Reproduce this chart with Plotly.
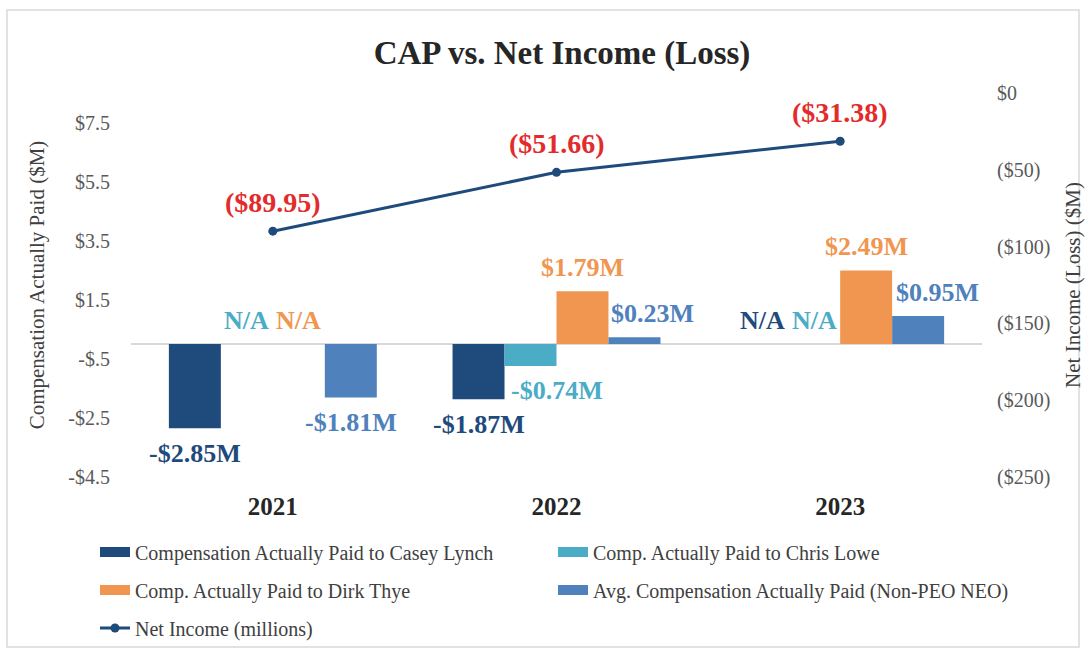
import plotly.graph_objects as go

# ---------------- data ----------------
years = ["2021", "2022", "2023"]
casey_lynch = [-2.85, -1.87, None]
chris_lowe = [None, -0.74, None]
dirk_thye = [None, 1.79, 2.49]
avg_non_peo = [-1.81, 0.23, 0.95]
net_income = [-89.95, -51.66, -31.38]

left_tick_vals = [-4.5, -2.5, -0.5, 1.5, 3.5, 5.5, 7.5]
left_tick_text = ["-$4.5", "-$2.5", "-$.5", "$1.5", "$3.5", "$5.5", "$7.5"]
right_tick_vals = [-250, -200, -150, -100, -50, 0]
right_tick_text = ["($250)", "($200)", "($150)", "($100)", "($50)", "$0"]

series_names = [
    "Compensation Actually Paid to Casey Lynch",
    "Comp. Actually Paid to Chris Lowe",
    "Comp. Actually Paid to Dirk Thye",
    "Avg. Compensation Actually Paid (Non-PEO NEO)",
]
series_values = [casey_lynch, chris_lowe, dirk_thye, avg_non_peo]
line_name = "Net Income (millions)"

# ---------------- style ----------------
FONT = "Liberation Serif"
colors = ["#1F4A7C", "#4BACC6", "#F09650", "#4F81BD"]
line_color = "#1F4A7C"
red = "#E32B2B"
BARGAP = 0.267
bw = (1 - BARGAP) / 4
# manual label nudges (pixels) for overlapping labels: (series, year index) -> xshift
label_xshift = {(1, 1): 26, (3, 1): 18, (3, 2): 19}

x_idx = list(range(len(years)))

fig = go.Figure()

for k, (name, vals) in enumerate(zip(series_names, series_values)):
    fig.add_trace(go.Bar(
        x=x_idx, y=vals, name=name, marker=dict(color=colors[k], line=dict(width=0)),
        showlegend=False, yaxis="y", hoverinfo="x+y",
    ))

fig.add_trace(go.Scatter(
    x=x_idx, y=net_income, name=line_name, yaxis="y2", mode="lines+markers",
    line=dict(color=line_color, width=3), marker=dict(color=line_color, size=9),
    legend="legend3",
))

# legend-only entries with rectangular swatches
legend_assign = ["legend", "legend", "legend2", "legend2"]
for k, name in enumerate(series_names):
    fig.add_trace(go.Scatter(
        x=[None], y=[None], mode="lines", name=name,
        line=dict(color=colors[k], width=11), legend=legend_assign[k], yaxis="y",
    ))

annotations = []
for k, vals in enumerate(series_values):
    for i, v in enumerate(vals):
        xs = i + (k - 1.5) * bw
        if v is None:
            txt, yv, ys = "N/A", 0, 24
        elif v < 0:
            txt, yv, ys = f"-${abs(v):.2f}M", v, -25
        else:
            txt, yv, ys = f"${v:.2f}M", v, 24
        annotations.append(dict(
            x=xs, y=yv, xref="x", yref="y", text=txt, showarrow=False,
            xanchor="center", yanchor="middle", yshift=ys,
            xshift=label_xshift.get((k, i), 0),
            font=dict(family=FONT, size=26, color=colors[k], weight="bold"),
        ))

for i, v in enumerate(net_income):
    annotations.append(dict(
        x=i, y=v, xref="x", yref="y2", text=f"(${abs(v):.2f})", showarrow=False,
        xanchor="center", yanchor="middle", yshift=29,
        font=dict(family=FONT, size=28, color=red, weight="bold"),
    ))

W, H = 1085, 648
ML, MR, MT, MB = 131, 103, 93, 171
pw, ph = W - ML - MR, H - MT - MB


def px_x(p):
    return (p - ML) / pw


def px_y(p):
    return (H - MB - p) / ph


legend_common = dict(
    orientation="h", xanchor="left", yanchor="middle", x=px_x(95),
    entrywidth=413, entrywidthmode="pixels", bgcolor="rgba(0,0,0,0)",
    font=dict(family=FONT, size=20, color="#404040"), itemclick=False,
)

fig.update_layout(
    width=W, height=H,
    margin=dict(l=ML, r=MR, t=MT, b=MB, autoexpand=False),
    paper_bgcolor="white", plot_bgcolor="white",
    barmode="group", bargap=BARGAP, bargroupgap=0,
    title=dict(
        text="CAP vs. Net Income (Loss)", x=562 / W, xref="container", xanchor="center",
        y=1 - 52 / H, yref="container", yanchor="middle",
        font=dict(family=FONT, size=33, color="#262626", weight="bold"),
    ),
    xaxis=dict(
        range=[-0.5, 2.5], tickvals=x_idx, ticktext=years, showgrid=False, zeroline=False,
        showline=False, ticks="", ticklabelstandoff=12,
        tickfont=dict(family=FONT, size=25, color="#262626", weight="bold"),
    ),
    yaxis=dict(
        range=[-4.5, 8.5], tickvals=left_tick_vals, ticktext=left_tick_text,
        showgrid=False, zeroline=True, zerolinecolor="#D9D9D9", zerolinewidth=1.5,
        showline=False, ticks="", ticklabelstandoff=20,
        tickfont=dict(family=FONT, size=20, color="#595959"),
        title=dict(text="Compensation Actually Paid ($M)", standoff=17,
                   font=dict(family=FONT, size=21, color="#404040")),
    ),
    yaxis2=dict(
        range=[-250, 0], overlaying="y", side="right", tickvals=right_tick_vals,
        ticktext=right_tick_text, showgrid=False, zeroline=False, showline=False, ticks="",
        ticklabelstandoff=14,
        tickfont=dict(family=FONT, size=20, color="#595959"),
        title=dict(text="Net Income (Loss) ($M)", standoff=15,
                   font=dict(family=FONT, size=21, color="#404040")),
    ),
    legend=dict(legend_common, y=px_y(552)),
    legend2=dict(legend_common, y=px_y(590)),
    legend3=dict(legend_common, y=px_y(628)),
    annotations=annotations,
    shapes=[dict(
        type="rect", xref="paper", yref="paper", x0=px_x(7), x1=px_x(1079),
        y0=px_y(647), y1=px_y(10), line=dict(color="#D9D9D9", width=1.5), layer="below",
    )],
    showlegend=True,
)

fig.write_html("out.html", config={"displayModeBar": False},
               post_script="document.body.style.margin='0';")
